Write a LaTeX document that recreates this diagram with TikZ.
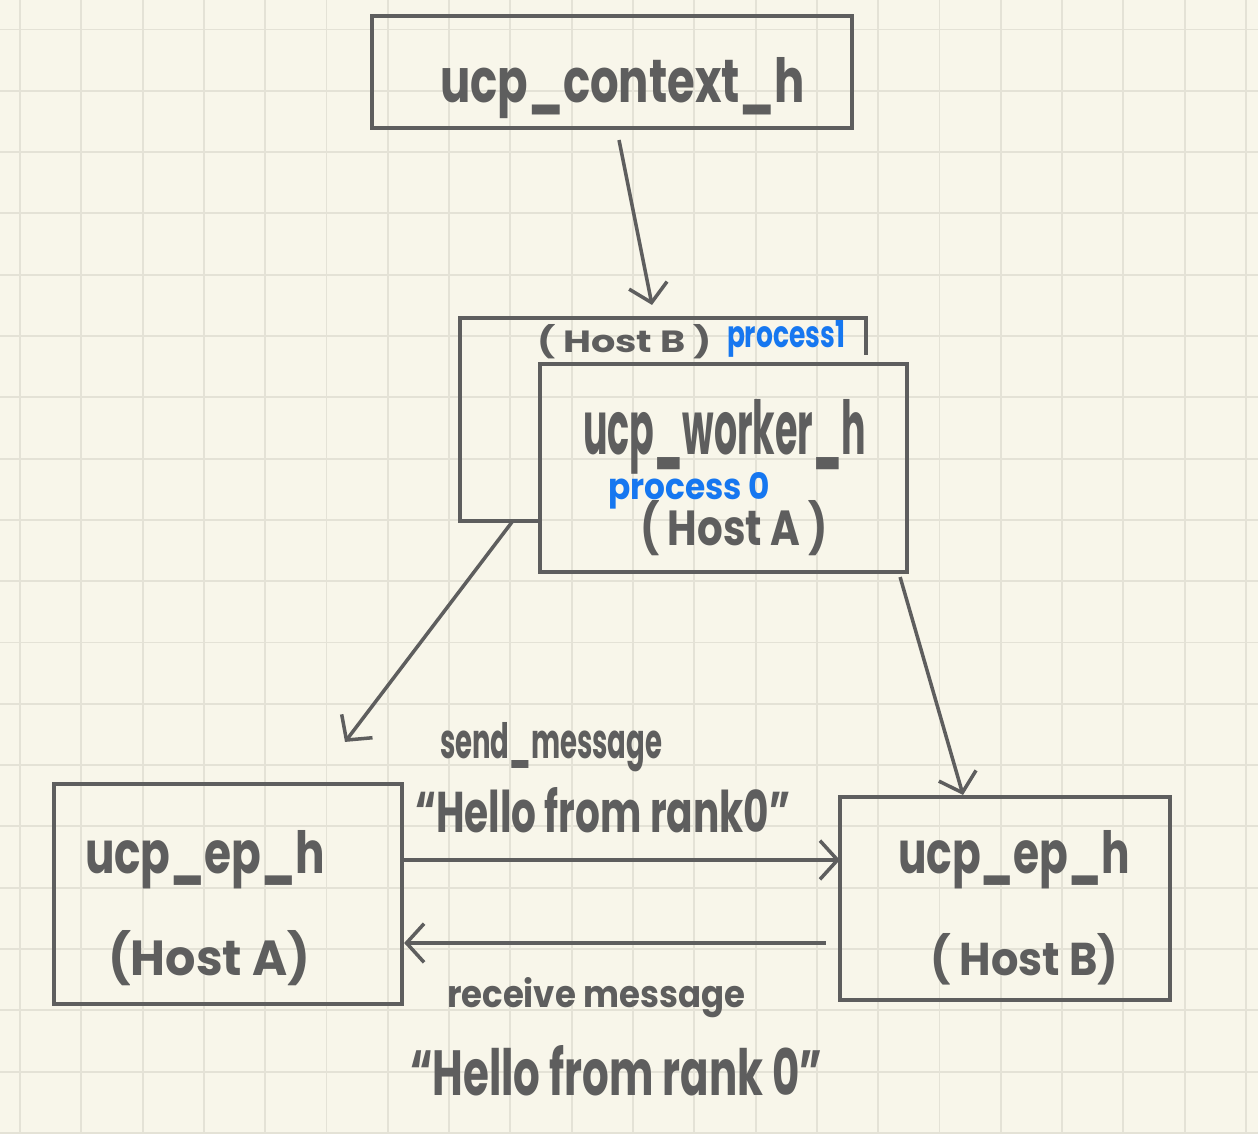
\documentclass[tikz,border=0pt]{standalone}
\usepackage{fontspec}
\setmainfont{Poppins}
\usepackage{graphicx}
\usetikzlibrary{arrows.meta,calc}
\definecolor{paper}{HTML}{F8F6EA}
\definecolor{gridc}{HTML}{E4E2D6}
\definecolor{pen}{HTML}{5E5E5E}
\definecolor{bluepen}{HTML}{1677F0}
% fit a label to a given width and height above its baseline
\newcommand\hw[3]{\resizebox{#1}{#2}{#3}}
\begin{document}
\begin{tikzpicture}[x=0.01cm,y=-0.01cm,
  box/.style={draw=pen,line width=1pt,minimum width=#1,inner sep=0pt,outer sep=0pt},
  arr/.style={draw=pen,line width=1pt,-{Straight Barb[length=5pt,width=11pt,line width=1pt]}},
  lbl/.style={anchor=base west,inner sep=0pt,outer sep=0pt,text=pen,font=\bfseries},
  blbl/.style={lbl,text=bluepen}]
% paper and grid
\fill[paper] (0,0) rectangle (1258,1134);
\useasboundingbox (0,0) rectangle (1258,1134);
\foreach \i in {0,...,20} \draw[gridc,line width=0.55pt] (20+61.3*\i,0) -- (20+61.3*\i,1134);
\foreach \j in {0,...,18} \draw[gridc,line width=0.55pt] (0,29.5+61.3*\j) -- (1258,29.5+61.3*\j);

% boxes
\node[box=4.8cm,minimum height=1.12cm] (ctx) at (612,72) {};
\node[inner sep=0pt,outer sep=0pt,minimum width=4.06cm,minimum height=2.03cm] (hostB) at (663,419.5) {};
\draw[pen,line width=1pt] ($(hostB.south west)+(80,0)$) -- (hostB.south west) -- (hostB.north west) -- (hostB.north east) -- ++(0,37);
\node[box=3.67cm,minimum height=2.08cm] (worker) at (723.5,468) {};
\node[box=3.48cm,minimum height=2.2cm] (epA) at (228,894) {};
\node[box=3.3cm,minimum height=2.03cm] (epB) at (1005,898.5) {};

% labels
\node[lbl] (tctx) at (440,103) {\hw{3.65cm}{0.45cm}{ucp\_context\_h}};
\node[lbl] (thb) at (537,353) {\hw{1.75cm}{0.28cm}{( Host B )}};
\node[blbl] (tp1) at (727,348) {\hw{1.18cm}{0.27cm}{process1}};
\node[lbl] (tw) at (583,455) {\hw{2.83cm}{0.55cm}{ucp\_worker\_h}};
\node[blbl] (tp0) at (608,500) {\hw{1.62cm}{0.27cm}{process 0}};
\node[lbl] (tha) at (640,545) {\hw{1.88cm}{0.45cm}{( Host A )}};
\node[lbl] (tea) at (85,873) {\hw{2.4cm}{0.43cm}{ucp\_ep\_h}};
\node[lbl] (thaa) at (108,975) {\hw{2.02cm}{0.45cm}{(Host A)}};
\node[lbl] (teb) at (898,873) {\hw{2.32cm}{0.43cm}{ucp\_ep\_h}};
\node[lbl] (thbb) at (930,975) {\hw{1.88cm}{0.42cm}{( Host B)}};
\node[lbl] (tsend) at (440,758) {\hw{2.22cm}{0.36cm}{send\_message}};
\node[lbl] (thello1) at (415,832) {\hw{3.75cm}{0.45cm}{“Hello from  rank0”}};
\node[lbl] (trecv) at (447,1007) {\hw{2.98cm}{0.3cm}{receive  message}};
\node[lbl] (thello2) at (410,1095) {\hw{4.12cm}{0.5cm}{“Hello from rank 0”}};

% connectors
\draw[arr] ($(ctx.south)+(7,12)$) -- ($(hostB.north)+(-11,-13)$);
\draw[arr] ($(hostB.south)+(-151,1)$) -- ($(epA.north)+(117,-42)$);
\draw[arr] ($(worker.south east)+(-7,5)$) -- ($(epB.north)+(-42,-2)$);
\coordinate (s1) at ($(epA.east)+(2,-34)$);
\draw[arr] (s1) -- (s1 -| epB.west);
\coordinate (r1) at ($(epB.west)+(-14,44.5)$);
\draw[arr] (r1) -- ($(r1 -| epA.east)+(2,0)$);
\end{tikzpicture}
\end{document}
